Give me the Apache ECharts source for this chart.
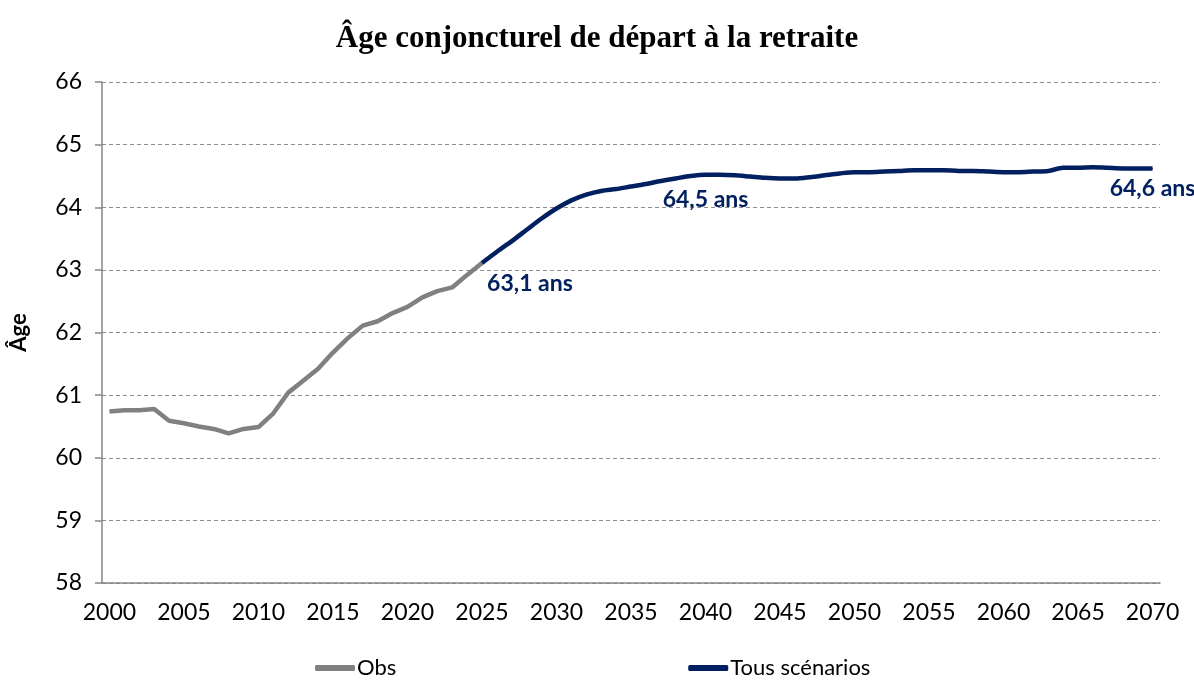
<!DOCTYPE html>
<html>
<head>
<meta charset="utf-8">
<script src="https://cdn.jsdelivr.net/npm/echarts@6/dist/echarts.min.js"></script>
<style>
  html, body { margin: 0; padding: 0; background: #fff; }
  #chart { width: 1194px; height: 680px; }
</style>
</head>
<body>
<div id="chart"></div>
<script>
// années 2000 -> 2070
var years = [];
for (var y = 2000; y <= 2070; y++) years.push(String(y));

// observé 2000-2025
var obs = [60.74, 60.76, 60.76, 60.78, 60.59, 60.55, 60.50, 60.46, 60.39, 60.46,
  60.49, 60.71, 61.04, 61.23, 61.42, 61.68, 61.91, 62.11, 62.18, 62.31,
  62.41, 62.56, 62.66, 62.72, 62.92, 63.11];

// projection tous scénarios 2025-2070
var projStart = 2025;
var proj = [63.11, 63.29, 63.46, 63.64, 63.82, 63.98, 64.11, 64.20, 64.26, 64.29,
  64.33, 64.37, 64.42, 64.46, 64.50, 64.52, 64.52, 64.51, 64.49, 64.47,
  64.46, 64.46, 64.48, 64.51, 64.54, 64.56, 64.56, 64.57, 64.58, 64.59,
  64.59, 64.59, 64.58, 64.58, 64.57, 64.56, 64.56, 64.57, 64.58, 64.63,
  64.63, 64.64, 64.63, 64.62, 64.62, 64.62];

// points annotés
var labelYears = [2025, 2040, 2070];
var labelOffsets = { 2025: [48, 3], 2040: [0, 7], 2070: [0, 2] };

var navy = '#002060';
var grey = '#808080';
var font = 'Lato';

var obsData = years.map(function (yr, i) {
  return i < obs.length ? obs[i] : '-';
});

var projData = years.map(function (yr) {
  var k = Number(yr) - projStart;
  if (k < 0 || k >= proj.length) return '-';
  var v = proj[k];
  if (labelYears.indexOf(Number(yr)) >= 0) {
    return {
      value: v,
      symbol: 'circle',
      symbolSize: 1,
      label: {
        show: true,
        position: 'bottom',
        distance: 6,
        offset: labelOffsets[yr],
        formatter: v.toFixed(1).replace('.', ',') + ' ans',
        color: navy,
        fontFamily: font,
        fontWeight: 'bold',
        fontSize: 23
      }
    };
  }
  return { value: v, symbol: 'none' };
});

var chart = echarts.init(document.getElementById('chart'));
chart.setOption({
  animation: false,
  title: {
    text: 'Âge conjoncturel de départ à la retraite',
    left: 'center',
    top: 18,
    textStyle: {
      fontFamily: 'Liberation Serif',
      fontWeight: 'bold',
      fontSize: 31,
      color: '#000'
    }
  },
  legend: {
    bottom: -4,
    left: 310,
    itemGap: 292,
    itemWidth: 40,
    itemHeight: 6,
    icon: 'roundRect',
    textStyle: { fontFamily: font, fontSize: 22, color: '#000', padding: [0, 0, 0, -3] },
    data: ['Obs', 'Tous scénarios']
  },
  grid: { left: 100, right: 34, top: 82, bottom: 97 },
  xAxis: {
    type: 'category',
    data: years,
    boundaryGap: true,
    axisLine: { lineStyle: { color: '#868686', width: 1.5 } },
    axisTick: { interval: 4, length: 7, lineStyle: { color: '#868686', width: 1.5 } },
    axisLabel: {
      interval: 4,
      margin: 18,
      fontFamily: font,
      fontSize: 23,
      color: '#000'
    }
  },
  yAxis: {
    type: 'value',
    min: 58,
    max: 66,
    interval: 1,
    name: 'Âge',
    nameLocation: 'middle',
    nameGap: 72,
    nameTextStyle: { fontFamily: font, fontWeight: 'bold', fontSize: 22, color: '#000' },
    axisLine: { show: true, lineStyle: { color: '#868686', width: 1.5 } },
    axisTick: { show: true, length: 7, lineStyle: { color: '#868686', width: 1.5 } },
    axisLabel: { margin: 20, fontFamily: font, fontSize: 23, color: '#000' },
    splitLine: { lineStyle: { color: '#8c8c8c', type: [4, 3], width: 1 } }
  },
  series: [
    {
      name: 'Obs',
      type: 'line',
      data: obsData,
      showSymbol: false,
      symbol: 'none',
      color: grey,
      lineStyle: { color: grey, width: 4.5 }
    },
    {
      name: 'Tous scénarios',
      type: 'line',
      data: projData,
      showSymbol: true,
      smooth: 0.3,
      color: navy,
      itemStyle: { color: navy },
      lineStyle: { color: navy, width: 4.5 }
    }
  ]
});
</script>
</body>
</html>
